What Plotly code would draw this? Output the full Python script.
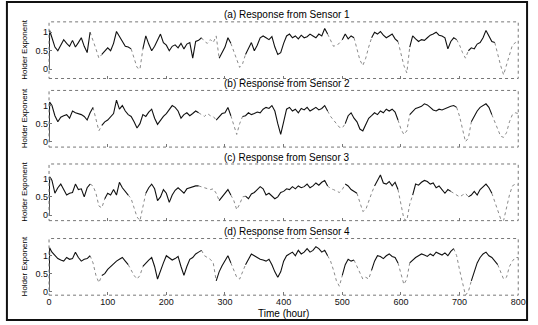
import plotly.graph_objects as go

# time grid (hours): first point at 0, then every 5 hours
hours = [0, 1] + list(range(5, 801, 5))

sensor1 = [0.0, 1.05,
    0.85, 0.6, 0.5, 0.65, 0.8, 0.7, 0.62, 0.78, 0.6, 0.72,
    0.85, 0.62, 0.45, 1.0, 0.8, 0.55, 0.3, 0.4, 0.48, 0.58,
    0.5, 0.7, 1.02, 0.88, 0.75, 0.62, 0.6, 0.55, 0.3, 0.05,
    0.0, 0.55, 0.9, 0.68, 0.5, 0.62, 0.8, 0.95, 0.72, 0.65,
    0.5, 0.62, 0.66, 0.58, 0.7, 0.55, 0.68, 0.72, 0.3, 0.75,
    0.78, 0.85, 0.75, 0.7, 0.8, 0.72, 0.9, 0.3, 0.45, 0.6,
    0.85, 0.7, 0.5, 0.25, 0.05, 0.15, 0.4, 0.55, 0.72, 0.5,
    0.65, 0.85, 0.9, 0.85, 0.8, 0.88, 0.6, 0.4, 0.45, 0.7,
    0.9, 0.95, 0.85, 0.9, 0.82, 0.92, 0.85, 0.88, 0.95, 0.9,
    0.85, 0.95, 0.9, 1.1, 0.95, 0.8, 0.62, 0.65, 0.7, 0.8,
    0.95, 0.82, 0.9, 0.85, 0.55, 0.25, 0.1, 0.3, 0.6, 0.85,
    1.0, 0.95, 1.02, 0.92, 0.85, 0.9, 0.95, 0.82, 0.75, 0.45,
    0.1, -0.1, 0.6, 0.9, 0.82, 0.75, 0.8, 0.78, 0.85, 0.92,
    0.95, 1.0, 0.92, 0.9, 0.85, 0.55, 0.75, 0.85, 0.8, 0.65,
    0.45, 0.3, 0.5, 0.58, 0.55, 0.68, 0.72, 0.85, 1.05, 0.88,
    0.75, 0.72, 0.4, 0.1, -0.15, 0.1, 0.4, 0.65, 0.72, 0.7]

sensor2 = [0.0, 1.1,
    1.0, 0.72, 0.55, 0.68, 0.72, 0.75, 0.65, 0.85, 0.8, 0.78,
    0.75, 0.7, 0.6, 0.8, 0.95, 0.6, 0.3, 0.45, 0.55, 0.6,
    0.7, 0.78, 1.15, 0.9, 1.0, 0.85, 0.75, 0.7, 0.55, 0.38,
    0.5, 0.75, 0.7, 0.82, 0.9, 0.65, 0.48, 0.6, 0.7, 0.78,
    0.9, 1.0, 0.95, 0.85, 0.65, 0.75, 0.8, 0.72, 0.78, 0.85,
    0.8, 0.75, 0.7, 0.78, 0.72, 0.7, 0.6, 0.7, 0.78, 0.8,
    0.95, 0.72, 0.45, 0.2, 0.5, 0.7, 0.72, 0.8, 0.75, 0.78,
    0.82, 0.8, 0.9, 0.95, 0.92, 1.0, 0.85, 0.5, 0.2, 0.55,
    0.9, 0.95, 0.85, 0.9, 0.8, 0.92, 0.88, 0.95, 0.85, 0.9,
    0.95, 0.88, 0.92, 1.0, 0.85, 0.7, 0.6, 0.5, 0.4, 0.38,
    0.5, 0.72, 0.8, 0.65, 0.55, 0.35, 0.3, 0.5, 0.65, 0.72,
    0.8, 0.75, 0.85, 0.8, 0.9, 0.85, 0.9, 0.82, 0.6, 0.35,
    0.2, 0.3, 0.75, 0.85, 0.92, 0.95, 0.98, 1.05, 1.02, 0.95,
    0.88, 0.85, 0.9, 0.88, 0.92, 0.95, 0.98, 1.0, 0.95, 0.7,
    0.35, 0.0, 0.1, 0.55, 0.7, 0.85, 0.95, 1.0, 1.05, 0.95,
    0.75, 0.55, 0.3, 0.15, 0.12, 0.25, 0.55, 0.75, 0.8, 0.78]

sensor3 = [0.0, 1.05,
    0.95, 0.6, 0.75, 0.85, 0.7, 0.55, 0.6, 0.62, 0.85, 0.7,
    0.72, 0.5, 0.75, 0.85, 0.8, 0.6, 0.25, 0.2, 0.45, 0.6,
    0.55, 0.7, 0.55, 0.9, 0.75, 0.65, 0.55, 0.45, 0.2, -0.05,
    -0.15, 0.2, 0.6, 0.75, 0.85, 0.72, 0.4, 0.5, 0.7, 0.6,
    0.35, 0.55, 0.68, 0.75, 0.68, 0.6, 0.72, 0.75, 0.78, 0.8,
    0.8, 0.78, 0.75, 0.72, 0.7, 0.72, 0.6, 0.4, 0.5, 0.62,
    0.7, 0.55, 0.4, 0.15, 0.3, 0.5, 0.52, 0.45, 0.58, 0.62,
    0.7, 0.78, 0.72, 0.55, 0.6, 0.52, 0.45, 0.5, 0.62, 0.65,
    0.72, 0.7, 0.78, 0.72, 0.8, 0.75, 0.78, 0.85, 0.75, 0.8,
    0.88, 0.82, 0.9, 0.95, 0.8, 0.72, 0.7, 0.65, 0.62, 0.7,
    0.85, 0.8, 0.7, 0.65, 0.6, 0.35, 0.1, 0.15, 0.4, 0.6,
    0.8, 0.95, 1.1, 0.88, 0.85, 0.92, 0.8, 0.9, 0.7, 0.3,
    -0.1, -0.15, 0.3, 0.55, 0.85, 0.82, 0.9, 0.95, 0.92, 0.85,
    0.88, 0.75, 0.8, 0.7, 0.6, 0.7, 0.65, 0.6, 0.55, 0.5,
    0.55, 0.6, 0.5, 0.55, 0.65, 0.55, 0.7, 0.78, 0.85, 0.75,
    0.6, 0.35, 0.1, -0.1, -0.15, 0.2, 0.55, 0.8, 0.85, 0.82]

sensor4 = [0.0, 1.22,
    1.1, 1.0, 0.92, 0.88, 0.85, 0.95, 0.9, 0.92, 1.1, 0.95,
    0.85, 0.9, 0.92, 1.0, 0.8, 0.45, 0.25, 0.45, 0.5, 0.62,
    0.7, 0.78, 0.85, 0.9, 0.95, 0.85, 0.75, 0.6, 0.45, 0.35,
    0.45, 0.7, 0.8, 0.88, 0.95, 0.7, 0.35, 0.6, 0.8, 1.0,
    0.95, 0.88, 0.92, 0.98, 0.7, 0.45, 0.7, 0.9, 0.95, 1.05,
    1.1, 1.15, 1.0, 0.95, 0.9, 0.8, 0.3, 0.55, 0.72, 0.85,
    1.0, 0.8, 0.6, 0.4, 0.35, 0.55, 0.75, 0.9, 1.05, 1.0,
    0.95, 0.9, 0.88, 0.85, 0.9, 0.75, 0.55, 0.4, 0.55, 0.85,
    1.0, 1.05, 1.1, 1.0, 1.15, 1.05, 1.1, 1.2, 1.1, 1.15,
    1.25, 1.2, 1.1, 1.15, 1.0, 0.85, 0.6, 0.3, 0.15, 0.45,
    0.75, 0.9, 0.85, 0.88, 0.7, 0.5, 0.35, 0.4, 0.35, 0.6,
    0.85, 1.0, 0.98, 0.92, 1.0, 1.05, 0.98, 0.95, 0.8, 0.5,
    0.2, 0.35, 0.8, 0.88, 0.95, 1.0, 1.05, 1.02, 0.98, 1.05,
    1.0, 1.1, 1.05, 1.02, 1.08, 1.0, 1.12, 1.2, 1.0, 0.6,
    0.2, -0.1, 0.0, 0.3, 0.55, 0.8, 0.95, 1.05, 1.1, 1.0,
    0.95, 0.85, 0.75, 0.55, 0.35, 0.4, 0.7, 0.85, 0.95, 0.95]

# missing-data intervals (hours) drawn as dotted grey
gaps1 = [(70, 90), (140, 160), (260, 290), (310, 335), (475, 500), (520, 550), (595, 615), (695, 715), (760, 800)]
gaps2 = [(75, 90), (255, 285), (310, 330), (475, 505), (595, 615), (695, 720), (755, 800)]
gaps3 = [(70, 95), (135, 165), (255, 290), (310, 335), (475, 505), (525, 555), (595, 620), (685, 715), (755, 800)]
gaps4 = [(70, 90), (135, 160), (260, 285), (310, 335), (475, 500), (520, 550), (595, 615), (690, 720), (765, 800)]

titles = ["(a) Response from Sensor 1", "(b) Response from Sensor 2",
          "(c) Response from Sensor 3", "(d) Response from Sensor 4"]
xticks = [0, 100, 200, 300, 400, 500, 600, 700, 800]
yticks = [0, 0.5, 1]
ytick_text = ["0", "0.5", "1"]

W, H = 538, 325
def px_x(p):
    return p / W
def px_y(p):
    return 1 - p / H

frames = [(22, 79), (91, 148), (165, 222), (240, 297)]
yranges = [[-0.25, 1.28], [-0.15, 1.42], [-0.15, 1.4], [-0.1, 1.48]]
X0, X1 = 47, 526
FONT = "Arial, Liberation Sans, sans-serif"

fig = go.Figure()
series = [sensor1, sensor2, sensor3, sensor4]
gapsets = [gaps1, gaps2, gaps3, gaps4]

def in_gap(t, gaps, strict):
    for a, b in gaps:
        if strict and a < t < b:
            return True
        if not strict and a <= t <= b:
            return True
    return False

shapes = []
annotations = []
for i, (vals, gaps) in enumerate(zip(series, gapsets)):
    k = i + 1
    xa = "x" if k == 1 else f"x{k}"
    ya = "y" if k == 1 else f"y{k}"
    solid = [None if in_gap(t, gaps, True) else v for t, v in zip(hours, vals)]
    dotted = [v if in_gap(t, gaps, False) else None for t, v in zip(hours, vals)]
    fig.add_trace(go.Scatter(x=hours, y=dotted, mode="lines", xaxis=xa, yaxis=ya,
                             line=dict(color="#8a8a8a", width=1, dash="dot"),
                             showlegend=False, hoverinfo="skip"))
    fig.add_trace(go.Scatter(x=hours, y=solid, mode="lines", xaxis=xa, yaxis=ya,
                             line=dict(color="#111111", width=1.1),
                             showlegend=False, hoverinfo="skip"))
    top, bot = frames[i]
    xkey = "xaxis" if k == 1 else f"xaxis{k}"
    ykey = "yaxis" if k == 1 else f"yaxis{k}"
    fig.update_layout(**{
        xkey: dict(domain=[px_x(X0), px_x(X1)], range=[0, 800], anchor=ya,
                   tickvals=xticks, showticklabels=(k == 4),
                   ticks="inside", ticklen=3, tickcolor="#777", tickwidth=1,
                   showgrid=False, zeroline=False, showline=False,
                   tickfont=dict(size=9, color="#111", family=FONT)),
        ykey: dict(domain=[px_y(bot), px_y(top)], range=yranges[i], anchor=xa,
                   tickvals=yticks, ticktext=ytick_text,
                   ticks="inside", ticklen=3, tickcolor="#777", tickwidth=1,
                   showgrid=False, zeroline=False, showline=False,
                   tickfont=dict(size=9, color="#111", family=FONT)),
    })
    shapes.append(dict(type="rect", xref=f"{xa} domain", yref=f"{ya} domain",
                       x0=0, x1=1, y0=0, y1=1,
                       line=dict(color="#777", width=1, dash="dot")))
    annotations.append(dict(text=titles[i], x=px_x((X0 + X1) / 2 + 3), y=px_y(top - 7),
                            xref="paper", yref="paper", showarrow=False,
                            xanchor="center", yanchor="middle",
                            font=dict(size=10, color="#000", family=FONT)))
    annotations.append(dict(text="Holder Exponent", x=px_x(22), y=px_y((top + bot) / 2),
                            xref="paper", yref="paper", showarrow=False, textangle=-90,
                            xanchor="center", yanchor="middle",
                            font=dict(size=8, color="#000", family=FONT)))

annotations.append(dict(text="Time (hour)", x=px_x(286), y=px_y(315),
                        xref="paper", yref="paper", showarrow=False,
                        xanchor="center", yanchor="middle",
                        font=dict(size=10, color="#000", family=FONT)))
shapes.append(dict(type="rect", xref="paper", yref="paper",
                   x0=px_x(4), x1=px_x(535), y0=px_y(322), y1=px_y(2),
                   line=dict(color="#111", width=2)))

fig.update_layout(width=W, height=H, margin=dict(l=0, r=0, t=0, b=0),
                  paper_bgcolor="white", plot_bgcolor="white",
                  shapes=shapes, annotations=annotations,
                  font=dict(family=FONT, color="#111"))

fig.write_html("out.html", config={"displayModeBar": False},
               post_script="document.body.style.margin='0';document.body.style.padding='0';document.body.style.overflow='hidden';")
